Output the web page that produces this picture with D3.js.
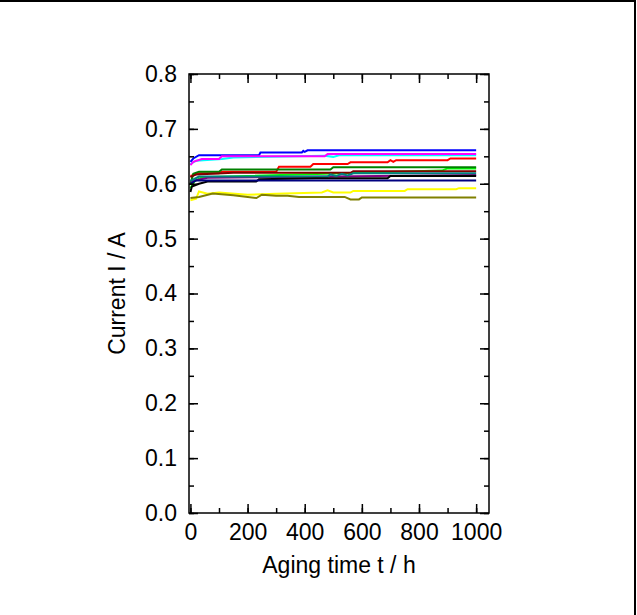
<!DOCTYPE html>
<html>
<head>
<meta charset="utf-8">
<script src="https://cdn.jsdelivr.net/npm/d3@7"></script>
<style>
  body { margin: 0; background: #fff; }
  svg { font-family: "Liberation Sans", Arial, sans-serif; }
  .tick text { font-size: 23px; fill: #000; }
  .title { font-size: 23px; fill: #000; }
</style>
</head>
<body>
<div class="chart"></div>
<script>
// series: [time in h, current in A]
var cyan = [[0,0.636],[20,0.642],[110,0.645],[150,0.648],[470,0.651],[500,0.649],[520,0.652],[1000,0.652]];
var blue = [[0,0.640],[10,0.646],[30,0.652],[240,0.652],[245,0.657],[390,0.657],[395,0.660],[400,0.658],[410,0.661],[1000,0.661]];
var magenta = [[0,0.634],[10,0.640],[40,0.645],[100,0.645],[110,0.650],[470,0.650],[480,0.654],[1000,0.654]];
var red = [[0,0.614],[30,0.619],[100,0.619],[110,0.622],[300,0.622],[310,0.631],[420,0.631],[430,0.636],[550,0.636],[560,0.639],[690,0.639],[700,0.643],[710,0.640],[720,0.643],[900,0.643],[910,0.646],[1000,0.646]];
var lime = [[0,0.592],[15,0.605],[40,0.612],[880,0.624],[900,0.628],[1000,0.628]];
var green = [[0,0.600],[10,0.618],[30,0.622],[100,0.622],[110,0.626],[490,0.626],[500,0.630],[1000,0.630]];
var maroon = [[0,0.612],[20,0.617],[150,0.620],[560,0.620],[570,0.623],[1000,0.623]];
var purple = [[0,0.604],[60,0.611],[1000,0.616]];
var teal = [[0,0.605],[30,0.613],[480,0.613],[490,0.617],[510,0.614],[530,0.618],[550,0.615],[570,0.619],[1000,0.619]];
var black = [[0,0.585],[5,0.595],[30,0.600],[60,0.604],[230,0.604],[240,0.608],[440,0.610],[690,0.610],[700,0.614],[1000,0.614]];
var navy = [[0,0.600],[20,0.606],[1000,0.606]];
var yellow = [[0,0.570],[20,0.573],[30,0.586],[60,0.582],[100,0.584],[200,0.580],[300,0.582],[460,0.584],[480,0.588],[500,0.584],[560,0.584],[570,0.587],[750,0.587],[760,0.590],[930,0.590],[940,0.592],[1000,0.592]];
var olive = [[0,0.574],[30,0.576],[78,0.582],[150,0.579],[231,0.574],[250,0.580],[300,0.578],[340,0.578],[380,0.576],[540,0.576],[560,0.5715],[590,0.5715],[600,0.575],[1000,0.575]];

var series = [
  { color: "#00ffff", values: cyan },
  { color: "#0000ff", values: blue },
  { color: "#ff00ff", values: magenta },
  { color: "#ff0000", values: red },
  { color: "#00ff00", values: lime },
  { color: "#008000", values: green },
  { color: "#800000", values: maroon },
  { color: "#800080", values: purple },
  { color: "#008080", values: teal },
  { color: "#000000", values: black },
  { color: "#000080", values: navy },
  { color: "#ffff00", values: yellow },
  { color: "#808000", values: olive }
];

var xTicks = [0, 200, 400, 600, 800, 1000];
var yTicks = [0, 0.1, 0.2, 0.3, 0.4, 0.5, 0.6, 0.7, 0.8];

var width = 637, height = 615;
var pLeft = 189, pRight = 489, pTop = 74, pBottom = 513;

var svg = d3.select(".chart").append("svg")
  .attr("width", width)
  .attr("height", height);

// frame of the picture (top and right edge)
svg.append("path")
  .attr("d", "M0,1H635V615")
  .attr("fill", "none")
  .attr("stroke", "#000")
  .attr("stroke-width", 2);

var x = d3.scaleLinear().domain([-5, 1045]).range([pLeft, pRight]);
var y = d3.scaleLinear().domain([0, 0.8]).range([pBottom, pTop]);

var line = d3.line()
  .x(function(d) { return x(d[0]); })
  .y(function(d) { return y(d[1]); });

svg.append("g")
  .selectAll("path")
  .data(series)
  .enter().append("path")
  .attr("d", function(d) { return line(d.values); })
  .attr("fill", "none")
  .attr("stroke", function(d) { return d.color; })
  .attr("stroke-width", 2);

var xMinor = d3.range(0, 1001, 100);
var yMinor = d3.range(0, 0.801, 0.05);

function ticks(g) {
  g.select(".domain").remove();
  g.selectAll(".tick line").attr("stroke", "#000").attr("stroke-width", 1.5);
}

// major axes with labels
svg.append("g")
  .attr("transform", "translate(0," + pBottom + ")")
  .call(d3.axisBottom(x).tickValues(xTicks).tickSize(-9).tickPadding(11).tickFormat(d3.format("d")))
  .call(ticks);
svg.append("g")
  .attr("transform", "translate(" + pLeft + ",0)")
  .call(d3.axisLeft(y).tickValues(yTicks).tickSize(-9).tickPadding(12).tickFormat(d3.format(".1f")))
  .call(ticks);
svg.append("g")
  .attr("transform", "translate(0," + pTop + ")")
  .call(d3.axisTop(x).tickValues(xTicks).tickSize(-9).tickFormat(""))
  .call(ticks);
svg.append("g")
  .attr("transform", "translate(" + pRight + ",0)")
  .call(d3.axisRight(y).tickValues(yTicks).tickSize(-9).tickFormat(""))
  .call(ticks);

// minor ticks
svg.append("g").attr("transform", "translate(0," + pBottom + ")")
  .call(d3.axisBottom(x).tickValues(xMinor).tickSize(-5).tickFormat("")).call(ticks);
svg.append("g").attr("transform", "translate(0," + pTop + ")")
  .call(d3.axisTop(x).tickValues(xMinor).tickSize(-5).tickFormat("")).call(ticks);
svg.append("g").attr("transform", "translate(" + pLeft + ",0)")
  .call(d3.axisLeft(y).tickValues(yMinor).tickSize(-5).tickFormat("")).call(ticks);
svg.append("g").attr("transform", "translate(" + pRight + ",0)")
  .call(d3.axisRight(y).tickValues(yMinor).tickSize(-5).tickFormat("")).call(ticks);

svg.append("rect")
  .attr("x", pLeft).attr("y", pTop)
  .attr("width", pRight - pLeft).attr("height", pBottom - pTop)
  .attr("fill", "none")
  .attr("stroke", "#000")
  .attr("stroke-width", 1.5);

svg.append("text")
  .attr("class", "title")
  .attr("x", (pLeft + pRight) / 2)
  .attr("y", 573)
  .attr("text-anchor", "middle")
  .text("Aging time t / h");

svg.append("text")
  .attr("class", "title")
  .attr("transform", "translate(125," + (pTop + pBottom) / 2 + ") rotate(-90)")
  .attr("text-anchor", "middle")
  .text("Current I / A");
</script>
</body>
</html>
